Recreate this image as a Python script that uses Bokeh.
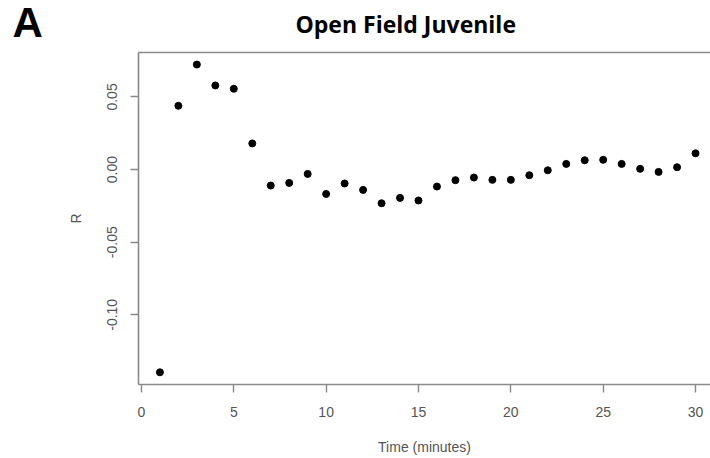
from bokeh.plotting import figure
from bokeh.models import Range1d, FixedTicker, PrintfTickFormatter, LinearAxis, Label
from bokeh.embed import file_html
from bokeh.resources import INLINE

# Correlation R per minute of the open-field session (juvenile group)
time_min = list(range(1, 31))
r_values = [-0.1396, 0.0439, 0.0723, 0.0579, 0.0556, 0.0180, -0.0110, -0.0092,
            -0.0030, -0.0168, -0.0096, -0.0140, -0.0232, -0.0195, -0.0213, -0.0117,
            -0.0073, -0.0055, -0.0071, -0.0071, -0.0039, -0.0005, 0.0039, 0.0064,
            0.0067, 0.0039, 0.0005, -0.0016, 0.0016, 0.0112]

x_ticks = [0, 5, 10, 15, 20, 25, 30]
y_ticks = [-0.10, -0.05, 0.00, 0.05]

title_text = "Open Field Juvenile"
panel_letter = "A"
x_label = "Time (minutes)"
y_label = "R"

AXIS_GREY = "#8a8a8a"
LABEL_GREY = "#555555"
TICK_FONT = "Liberation Sans"

p = figure(width=710, height=458, output_backend="svg", toolbar_location=None,
           x_range=Range1d(-0.16, 30.81), y_range=Range1d(-0.148, 0.0806),
           min_border_left=138, min_border_right=0, min_border_top=52,
           min_border_bottom=74)
p.outline_line_color = None
p.xgrid.visible = False
p.ygrid.visible = False
p.background_fill_color = "white"
p.border_fill_color = "white"

p.scatter(time_min, r_values, size=7, color="black")

# bottom axis
xa = p.xaxis[0]
xa.ticker = FixedTicker(ticks=x_ticks)
xa.minor_tick_line_color = None
xa.major_tick_in = 0
xa.major_tick_out = 8
xa.axis_line_color = AXIS_GREY
xa.axis_line_width = 1.6
xa.major_tick_line_color = AXIS_GREY
xa.major_tick_line_width = 1.4
xa.major_label_text_font = TICK_FONT
xa.major_label_text_font_size = "14px"
xa.major_label_text_color = LABEL_GREY
xa.major_label_standoff = 14
xa.axis_label = x_label
xa.axis_label_text_font = TICK_FONT
xa.axis_label_text_font_size = "14px"
xa.axis_label_text_font_style = "normal"
xa.axis_label_text_color = LABEL_GREY
xa.axis_label_standoff = 19

# left axis
ya = p.yaxis[0]
ya.ticker = FixedTicker(ticks=y_ticks)
ya.formatter = PrintfTickFormatter(format="%.2f")
ya.minor_tick_line_color = None
ya.major_tick_in = 0
ya.major_tick_out = 8
ya.axis_line_color = AXIS_GREY
ya.axis_line_width = 1.6
ya.major_tick_line_color = AXIS_GREY
ya.major_tick_line_width = 1.4
ya.major_label_orientation = "parallel"
ya.major_label_text_font = TICK_FONT
ya.major_label_text_font_size = "14px"
ya.major_label_text_color = LABEL_GREY
ya.major_label_standoff = 13
ya.axis_label = y_label
ya.axis_label_text_font = TICK_FONT
ya.axis_label_text_font_size = "14px"
ya.axis_label_text_font_style = "normal"
ya.axis_label_text_color = LABEL_GREY
ya.axis_label_standoff = 21

# top edge of the box
top = LinearAxis(ticker=FixedTicker(ticks=[]), major_label_text_font_size="0px",
                 axis_line_color=AXIS_GREY, axis_line_width=1.6,
                 major_tick_line_color=None, minor_tick_line_color=None)
p.add_layout(top, "above")

# heading in the top panel, panel letter in the left panel
p.add_layout(Label(x=157, y=29, x_units="screen", y_units="screen",
                   text=title_text, text_font="Open Sans", text_font_style="bold",
                   text_font_size="23px", text_color="black",
                   text_baseline="alphabetic", text_align="left"), "above")
p.add_layout(Label(x=-22, y=362, x_units="screen", y_units="screen",
                   text=panel_letter, text_font="Liberation Sans", text_font_style="bold",
                   text_font_size="42px", text_color="black",
                   text_baseline="alphabetic", text_align="left"), "left")

open("out.html", "w").write(file_html(p, INLINE))
